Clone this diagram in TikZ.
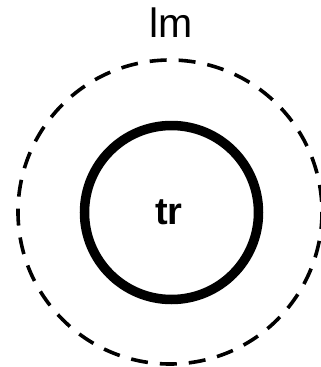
\documentclass[tikz,border=0pt]{standalone}
\usepackage{fontspec}
\setmainfont{Liberation Sans}
\begin{document}
\begin{tikzpicture}[x=1pt,y=-1pt,
  outerring/.style={draw=black,line width=3.6pt,dash pattern=on 17pt off 12pt},
  innerring/.style={draw=black,line width=9.5pt},
  lbl/.style={font=\fontsize{41}{41}\selectfont,inner sep=0pt}]
\useasboundingbox (0,0) rectangle (321,367);
\coordinate (c) at (170,212);
\coordinate (ci) at (171.5,212.5);
\draw[outerring] (c) circle[radius=152];
\draw[innerring] (ci) circle[radius=87];
\node[font=\fontsize{38}{38}\selectfont\bfseries,inner sep=0pt,anchor=base] (trl) at (169,224) {tr};
\node[lbl,anchor=base] (lml) at (171,37) {lm};
\end{tikzpicture}
\end{document}
